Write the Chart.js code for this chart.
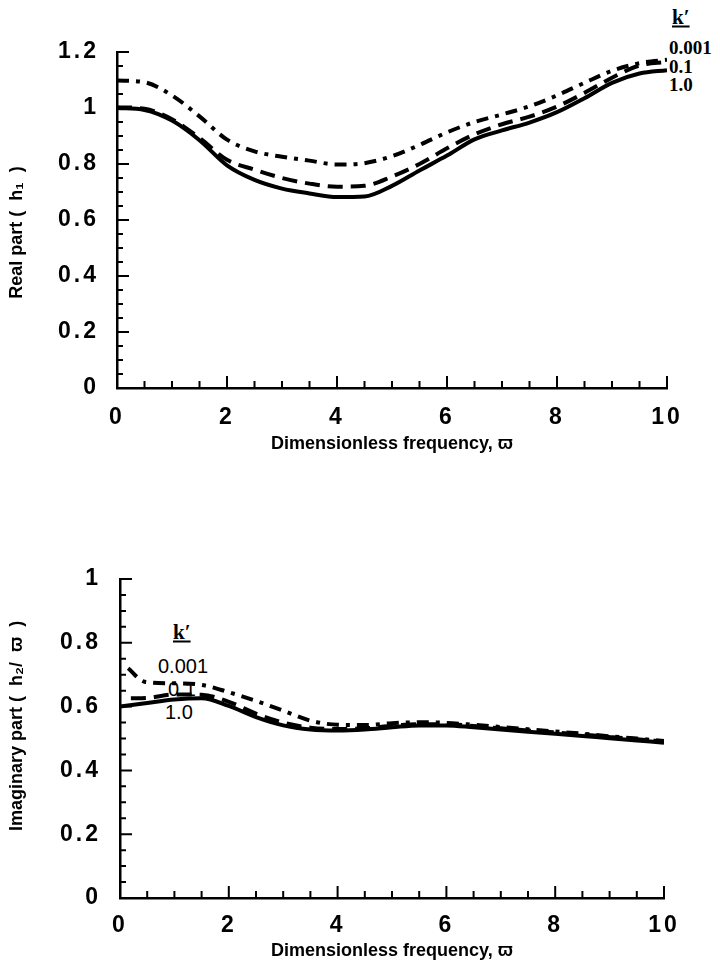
<!DOCTYPE html>
<html>
<head>
<meta charset="utf-8">
<script src="https://cdn.jsdelivr.net/npm/chart.js@4.4.1/dist/chart.umd.min.js"></script>
<style>
  body { margin: 0; background: #fff; }
  #page { position: relative; width: 720px; height: 972px; overflow: hidden; background: #fff; }
  .lbl { position: absolute; color: #000; line-height: 1; white-space: nowrap; transform: translateY(-50%); }
  .serif { font-family: "Liberation Serif", "DejaVu Serif", serif; font-weight: bold; }
  .sans { font-family: "Liberation Sans", Arial, sans-serif; }
  .kk { text-decoration: underline; font-size: 21px; }
  canvas { position: absolute; left: 0; }
</style>
</head>
<body>
<div id="page">
  <!-- k' labels, top plot -->
  <div class="lbl serif kk" style="left:672px;top:17px">k′</div>
  <div class="lbl serif" style="left:669px;top:47px;font-size:19px">0.001</div>
  <div class="lbl serif" style="left:669px;top:66px;font-size:19px">0.1</div>
  <div class="lbl serif" style="left:669px;top:84px;font-size:19px">1.0</div>
  <!-- k' labels, bottom plot -->
  <div class="lbl serif kk" style="left:173px;top:632px">k′</div>
  <div class="lbl sans" style="left:158px;top:666px;font-size:20px">0.001</div>
  <div class="lbl sans" style="left:168px;top:689px;font-size:20px">0.1</div>
  <div class="lbl sans" style="left:165px;top:712px;font-size:20px">1.0</div>

  <canvas id="realChart" width="720" height="470" style="top:0"></canvas>
  <canvas id="imagChart" width="720" height="492" style="top:480px"></canvas>
</div>
<script>
// dimensionless frequency samples
const omega = [0, 0.5, 1, 1.5, 2, 2.5, 3, 3.5, 4, 4.5, 5, 5.5, 6, 6.5, 7, 7.5, 8, 8.5, 9, 9.5, 10];

// real part h1
const realK0001 = [1.098, 1.092, 1.045, 0.97, 0.887, 0.845, 0.826, 0.812, 0.798, 0.803, 0.828, 0.868, 0.913, 0.95, 0.977, 1.006, 1.045, 1.09, 1.133, 1.16, 1.172];
const realK01   = [1.003, 0.997, 0.96, 0.893, 0.815, 0.78, 0.75, 0.73, 0.719, 0.722, 0.755, 0.8, 0.856, 0.906, 0.942, 0.969, 1.005, 1.054, 1.108, 1.152, 1.165];
const realK1    = [1.0, 0.993, 0.955, 0.885, 0.795, 0.743, 0.712, 0.695, 0.682, 0.684, 0.722, 0.777, 0.83, 0.888, 0.92, 0.948, 0.985, 1.035, 1.09, 1.123, 1.135];

// imaginary part h2 / omega
const imagOmegaK0001 = [0.15, 0.45, 1, 1.5, 2, 2.5, 3, 3.5, 4, 4.5, 5, 5.5, 6, 6.5, 7, 7.5, 8, 8.5, 9, 9.5, 10];
const imagK0001 = [0.72, 0.678, 0.673, 0.668, 0.645, 0.618, 0.587, 0.556, 0.543, 0.542, 0.548, 0.551, 0.549, 0.543, 0.536, 0.529, 0.522, 0.515, 0.507, 0.5, 0.492];
const imagOmegaK01 = [0.2, 0.5, 1, 1.5, 2, 2.5, 3, 3.5, 4, 4.5, 5, 5.5, 6, 6.5, 7, 7.5, 8, 8.5, 9, 9.5, 10];
const imagK01 = [0.626, 0.627, 0.638, 0.637, 0.615, 0.578, 0.55, 0.534, 0.53, 0.532, 0.54, 0.545, 0.545, 0.539, 0.532, 0.525, 0.519, 0.512, 0.505, 0.498, 0.49];
const imagK1 = [0.6, 0.611, 0.622, 0.626, 0.602, 0.567, 0.541, 0.528, 0.525, 0.528, 0.535, 0.541, 0.541, 0.535, 0.528, 0.521, 0.515, 0.508, 0.501, 0.494, 0.487];

// labelled ticks
const freqTickLabels = [0, 2, 4, 6, 8, 10];
const realTickLabels = [0, 0.2, 0.4, 0.6, 0.8, 1, 1.2];
const imagTickLabels = [0, 0.2, 0.4, 0.6, 0.8, 1];

function isLabelled(list, v) {
  return list.some(t => Math.abs(t - v) < 1e-6);
}

function toPoints(xs, ys) {
  return xs.map((x, i) => ({ x: x, y: ys[i] }));
}

// ticks point inward, long ones at the labelled values
const inwardTicks = {
  id: 'inwardTicks',
  afterDatasetsDraw(chart, args, opts) {
    const ctx = chart.ctx;
    const a = chart.chartArea;
    const x = chart.scales.x, y = chart.scales.y;
    ctx.save();
    ctx.strokeStyle = '#000';
    ctx.lineWidth = 2;
    ctx.beginPath();
    x.ticks.forEach(t => {
      const px = x.getPixelForValue(t.value);
      const len = isLabelled(opts.xLabels, t.value) ? 12 : 7;
      ctx.moveTo(px, a.bottom);
      ctx.lineTo(px, a.bottom - len);
    });
    y.ticks.forEach(t => {
      const py = y.getPixelForValue(t.value);
      const len = isLabelled(opts.yLabels, t.value) ? 12 : 6;
      ctx.moveTo(a.left, py);
      ctx.lineTo(a.left + len, py);
    });
    ctx.stroke();
    ctx.restore();
  }
};

// wide spacing of the tick numbers (labels are drawn after the datasets, z = 1)
const tickSpacing = {
  id: 'tickSpacing',
  afterDatasetsDraw(chart) { chart.ctx.letterSpacing = '3px'; },
  afterDraw(chart) { chart.ctx.letterSpacing = '0px'; }
};

function makeChart(id, o) {
  const ctx = document.getElementById(id).getContext('2d');
  return new Chart(ctx, {
    type: 'line',
    data: { datasets: o.datasets },
    options: {
      responsive: false,
      animation: false,
      devicePixelRatio: 1,
      layout: { padding: { top: o.top, right: o.right, left: 0, bottom: 0 } },
      elements: { point: { radius: 0 } },
      plugins: {
        legend: { display: false },
        tooltip: { enabled: false },
        inwardTicks: { xLabels: freqTickLabels, yLabels: o.yLabels }
      },
      scales: {
        x: {
          type: 'linear',
          min: 0, max: 10,
          grid: { display: false, drawTicks: false },
          border: { display: true, color: '#000', width: 2.5 },
          ticks: {
            stepSize: 0.5,
            autoSkip: false,
            maxRotation: 0,
            padding: o.xPad,
            z: 1,
            color: '#000',
            font: { family: '"Liberation Sans", Arial, sans-serif', size: 23, weight: 'bold' },
            callback: v => isLabelled(freqTickLabels, v) ? String(v) : ''
          },
          title: {
            display: true,
            text: 'Dimensionless frequency, ϖ',
            color: '#000',
            padding: { top: 0, bottom: o.xTitlePad },
            font: { family: '"Liberation Sans", Arial, sans-serif', size: 18, weight: 'bold' }
          },
          afterFit: s => { s.height = o.xHeight; }
        },
        y: {
          min: 0, max: o.yMax,
          grid: { display: false, drawTicks: false },
          border: { display: true, color: '#000', width: 2.5 },
          ticks: {
            stepSize: 0.05,
            autoSkip: false,
            padding: o.yPad,
            z: 1,
            color: '#000',
            font: { family: '"Liberation Sans", Arial, sans-serif', size: 23, weight: 'bold' },
            callback: v => isLabelled(o.yLabels, v) ? String(Math.round(v * 10) / 10) : ''
          },
          title: {
            display: true,
            text: o.yTitle,
            color: '#000',
            padding: { top: 6, bottom: 0 },
            font: { family: '"Liberation Sans", Arial, sans-serif', size: 18, weight: 'bold' }
          },
          afterFit: s => { s.width = o.yWidth; }
        }
      }
    },
    plugins: [inwardTicks, tickSpacing]
  });
}

function series(label, pts, dash, width) {
  return {
    label: label,
    data: pts,
    borderColor: '#000',
    borderWidth: width,
    borderDash: dash,
    fill: false,
    cubicInterpolationMode: 'monotone'
  };
}

makeChart('realChart', {
  top: 52, right: 53, yWidth: 117, xHeight: 82,
  xPad: 16, xTitlePad: 15, yPad: 18, yMax: 1.2,
  yLabels: realTickLabels,
  yTitle: 'Real part (  h₁  )     ',
  datasets: [
    series('0.001', toPoints(omega, realK0001), [12, 7, 4, 7], 4),
    series('0.1', toPoints(omega, realK01), [15, 8], 4),
    series('1.0', toPoints(omega, realK1), [], 4)
  ]
});

makeChart('imagChart', {
  top: 99, right: 56, yWidth: 120, xHeight: 74,
  xPad: 14, xTitlePad: 10, yPad: 19, yMax: 1,
  yLabels: imagTickLabels,
  yTitle: '     Imaginary part (  h₂/  ϖ  )',
  datasets: [
    series('0.001', toPoints(imagOmegaK0001, imagK0001), [12, 7, 4, 7], 4),
    series('0.1', toPoints(imagOmegaK01, imagK01), [15, 8], 4),
    series('1.0', toPoints(omega, imagK1), [], 4)
  ]
});
</script>
</body>
</html>
